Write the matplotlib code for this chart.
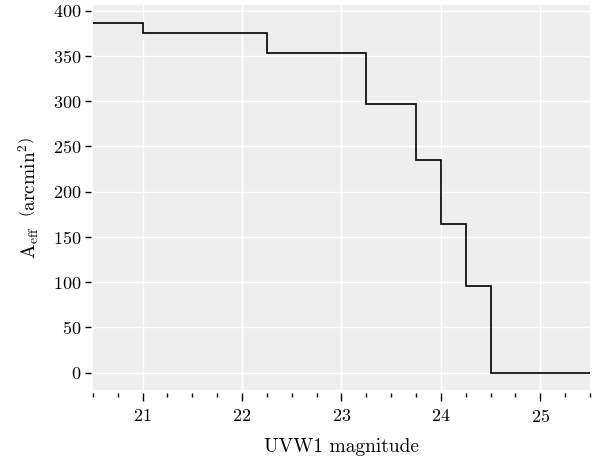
import numpy as np
import matplotlib.pyplot as plt
from matplotlib.ticker import MultipleLocator

plt.rcParams['mathtext.fontset'] = 'cm'
plt.rcParams['font.family'] = 'serif'
plt.rcParams['font.serif'] = ['cmr10', 'DejaVu Serif']
plt.rcParams['axes.formatter.use_mathtext'] = True
plt.rcParams['axes.unicode_minus'] = False

# bin edges (UVW1 magnitude) and effective area per bin
mag_edges = [20.5, 21.0, 22.25, 23.25, 23.75, 24.0, 24.25, 24.5, 25.5]
area = [387, 375, 353, 297, 235, 164, 96, 0]

fig = plt.figure(figsize=(5.99, 4.59), dpi=100)
ax = fig.add_axes([0.155, 0.150, 0.830, 0.839])
ax.set_facecolor('#EEEEEE')

ax.stairs(area, mag_edges, baseline=None, color='black', lw=1.2)

ax.set_xlim(20.5, 25.5)
ax.xaxis.set_major_locator(MultipleLocator(1))
ax.xaxis.set_minor_locator(MultipleLocator(0.25))
ax.yaxis.set_major_locator(MultipleLocator(50))

ax.grid(True, which='major', color='white', lw=1)
ax.set_axisbelow(True)
for s in ax.spines.values():
    s.set_color('none')
ax.spines['bottom'].set_position(('outward', 2))
ax.spines['left'].set_position(('outward', 1))

ax.tick_params(axis='x', which='major', length=6, width=1, labelsize=13, pad=5)
ax.tick_params(axis='x', which='minor', length=3, width=1)
ax.tick_params(axis='y', which='major', length=4.5, width=1, labelsize=13, pad=3)

ax.set_xlabel('UVW1 magnitude', fontsize=14, labelpad=9)
ax.set_ylabel(r'$\mathrm{A_{eff}}\ \ \left(\mathrm{arcmin}^2\right)$', fontsize=14, labelpad=8)

fig.savefig('out.png', dpi=100)
